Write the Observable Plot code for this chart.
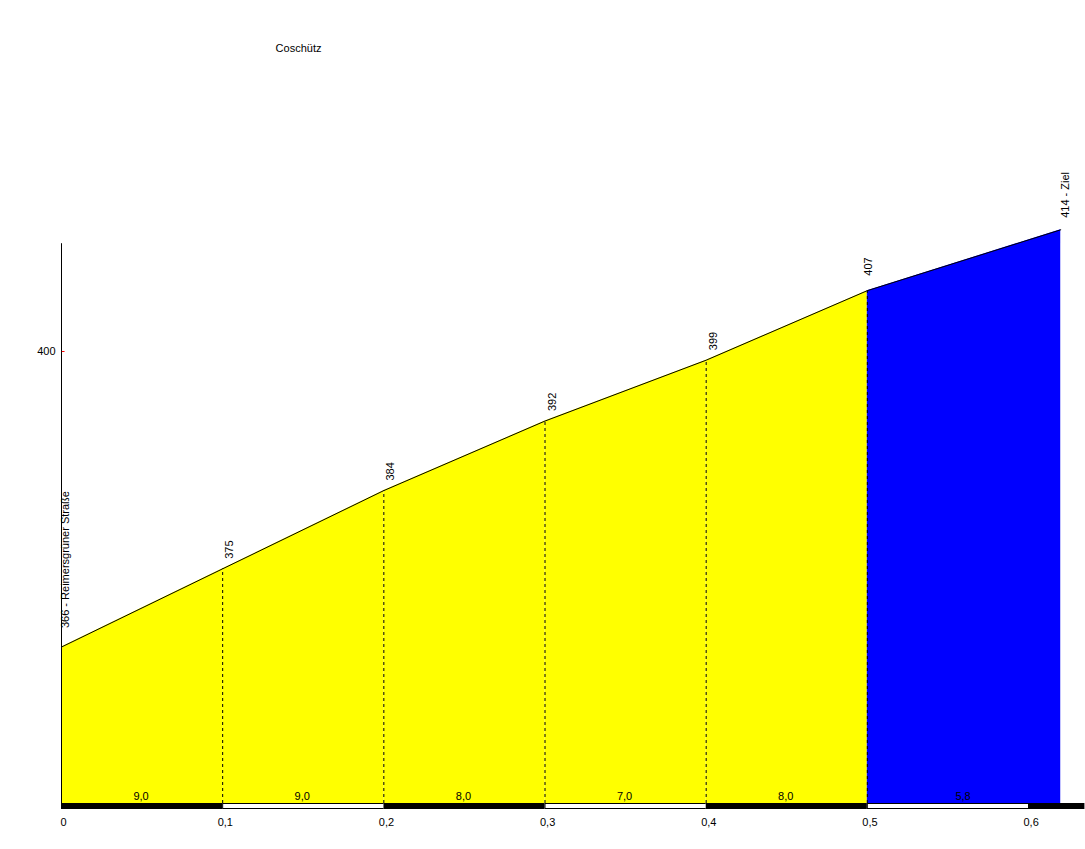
<!DOCTYPE html>
<html>
<head>
<meta charset="utf-8">
<script src="https://cdn.jsdelivr.net/npm/d3@7"></script>
<script src="https://cdn.jsdelivr.net/npm/@observablehq/plot@0.6"></script>
<style>
  html, body { margin: 0; padding: 0; background: white; }
  #chart svg { display: block; }
</style>
</head>
<body>
<div id="chart"></div>
<script>
// ---- data ----
const km = [0, 0.1, 0.2, 0.3, 0.4, 0.5, 0.62];
const elevation = [366, 375, 384, 392, 399, 407, 414];
const gradient = [9.0, 9.0, 8.0, 7.0, 8.0, 5.8];
const startName = "Reimersgrüner Straße";
const endName = "Ziel";
const placeName = "Coschütz";
const xTicks = [0, 0.1, 0.2, 0.3, 0.4, 0.5, 0.6];
const yTicks = [400];
const baseElevation = 348;
const axisTopElevation = 412.4;
const barEnd = 0.635;

// ---- derived tables ----
const fmt = d3.format(".1f");
const comma = s => String(s).replace(".", ",");
const points = km.map((d, i) => ({km: d, elev: elevation[i], i}));
const segs = [];
gradient.forEach((g, i) => {
  segs.push({seg: i, km: km[i], elev: elevation[i], grad: g});
  segs.push({seg: i, km: km[i + 1], elev: elevation[i + 1], grad: g});
});
const segLabels = gradient.map((g, i) => ({mid: (km[i] + km[i + 1]) / 2, label: comma(fmt(g))}));
const barSegs = xTicks.map((t, i) => ({x1: t, x2: i + 1 < xTicks.length ? xTicks[i + 1] : barEnd, odd: i % 2 === 1}));
const labels = points.map(p => ({
  ...p,
  text: p.i === 0 ? `${p.elev} - ${startName}` : p.i === points.length - 1 ? `${p.elev} - ${endName}` : `${p.elev}`
}));
const labelOffset = i => i === 0 ? [4, -19] : i === points.length - 1 ? [5, -12] : i === 5 ? [1, -15] : [7, -10];

const chart = Plot.plot({
  width: 1085,
  height: 849,
  margin: 0,
  style: {background: "white", fontFamily: "'Liberation Sans', Arial, sans-serif", fontSize: "11px", overflow: "visible"},
  x: {type: "linear", domain: [0, 0.6], range: [61, 1028], axis: null},
  y: {type: "linear", domain: [baseElevation, 400], range: [803, 351], axis: null},
  color: {type: "threshold", domain: [6], range: ["#0000ff", "#ffff00"]},
  marks: [
    Plot.areaY(segs, {x: "km", y1: baseElevation, y2: "elev", fill: "grad", z: "seg"}),
    Plot.ruleX(points.filter(p => p.i > 0 && p.i < points.length - 1), {x: "km", y1: baseElevation, y2: "elev", stroke: "black", strokeWidth: 1, strokeDasharray: "3,3"}),
    Plot.line(points, {x: "km", y: "elev", stroke: "black", strokeWidth: 1}),
    // y axis
    Plot.ruleX([0], {x: d => d, y1: baseElevation, y2: axisTopElevation, stroke: "black", strokeWidth: 1}),
    Plot.ruleY(yTicks, {y: d => d, x1: 0.0005, x2: 0.0022, stroke: "red"}),
    Plot.text(yTicks, {y: d => d, x: 0, text: d => String(d), textAnchor: "end", dx: -6, fill: "black"}),
    // distance bar
    Plot.rect(barSegs, {x1: "x1", x2: "x2", y1: baseElevation, y2: baseElevation, insetBottom: -6, fill: "black"}),
    Plot.rect(barSegs.filter(d => d.odd), {x1: "x1", x2: "x2", y1: baseElevation, y2: baseElevation, insetTop: 1, insetBottom: -5, insetLeft: 1, insetRight: 0, fill: "white"}),
    // gradient labels
    Plot.text(segLabels, {x: "mid", y: baseElevation, text: "label", dy: -7, dx: -1, fill: "black"}),
    // x tick labels
    ...xTicks.map((t, i) => Plot.text([t], {x: d => d, y: baseElevation, text: d => comma(d), textAnchor: "start", dx: i === 0 ? -1 : -5, dy: 19, fill: "black"})),
    // elevation labels
    ...labels.map(l => Plot.text([l], {x: "km", y: "elev", text: "text", rotate: -90, textAnchor: "start", lineAnchor: "middle", dx: labelOffset(l.i)[0], dy: labelOffset(l.i)[1], fill: "black"})),
    // place name
    Plot.text([placeName], {frameAnchor: "top-left", text: d => d, dx: 298, dy: 48, textAnchor: "middle", lineAnchor: "middle", fill: "black"})
  ]
});
document.getElementById("chart").appendChild(chart);
</script>
</body>
</html>
